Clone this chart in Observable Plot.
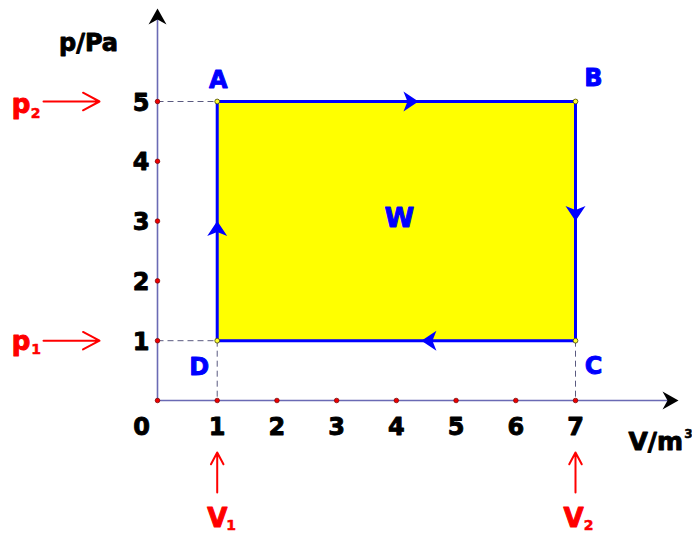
<!DOCTYPE html>
<html>
<head>
<meta charset="utf-8">
<script src="https://cdn.jsdelivr.net/npm/d3@7"></script>
<script src="https://cdn.jsdelivr.net/npm/@observablehq/plot@0.6"></script>
<style>
  html, body { margin: 0; padding: 0; background: #ffffff; }
</style>
</head>
<body>
<div id="chart"></div>
<script>
// ---- data ----
const vertexLabels = ["A", "B", "C", "D"];
const vertexV = [1, 7, 7, 1];
const vertexP = [5, 5, 1, 1];
const xTicks = [0, 1, 2, 3, 4, 5, 6, 7];
const yTicks = [1, 2, 3, 4, 5];
const xTickLabels = ["0", "1", "2", "3", "4", "5", "6", "7"];
const yTickLabels = ["1", "2", "3", "4", "5"];
const flowTipV = [1, 4.37, 7, 4.42];
const flowTipP = [3, 5, 3, 1];
const flowAngle = [0, 90, 180, 270];
const axisEndV = 8.725;
const axisEndP = 6.555;
const workLabel = "W";
const xAxisLabel = "V/m";
const xAxisSup = "3";
const yAxisLabel = "p/Pa";

// ---- helpers ----
function arrowHead(L, w, n) {
  return {
    draw(ctx) {
      ctx.moveTo(0, 0);
      ctx.lineTo(w, L);
      ctx.lineTo(0, L - n);
      ctx.lineTo(-w, L);
      ctx.closePath();
    }
  };
}
const FONT = "DejaVu Sans";
const bold = (color, size, sw) => ({fontSize: size, fontWeight: "bold", fontFamily: FONT, fill: color, stroke: color, strokeWidth: sw});
const idx = [0, 1, 2, 3, 0];
const rectDatum = [{
  x1: d3.min(vertexV), x2: d3.max(vertexV),
  y1: d3.min(vertexP), y2: d3.max(vertexP)
}];
// dashed guides: A, D to p-axis; D, C to V-axis
const guides = [
  {x1: 0, y1: vertexP[0], x2: vertexV[0], y2: vertexP[0]},
  {x1: 0, y1: vertexP[3], x2: vertexV[3], y2: vertexP[3]},
  {x1: vertexV[3], y1: vertexP[3], x2: vertexV[3], y2: 0},
  {x1: vertexV[2], y1: vertexP[2], x2: vertexV[2], y2: 0}
];
const redArrowsP = [
  {x1: -1.909, x2: -0.971, y: vertexP[0]},
  {x1: -1.909, x2: -0.971, y: vertexP[3]}
];
const redArrowsV = [
  {x: vertexV[3], y1: -1.538, y2: -0.870},
  {x: vertexV[2], y1: -1.538, y2: -0.870}
];
const labelOffsets = [[1, -21], [18, -23], [18, 26], [-18, 27]];

const vertexLabelMarks = vertexLabels.map((lab, i) =>
  Plot.text([lab], {x: vertexV[i], y: vertexP[i], text: d => d, dx: labelOffsets[i][0], dy: labelOffsets[i][1], ...bold("#0000ff", 24, 0.9)})
);

const chart = Plot.plot({
  width: 692,
  height: 533,
  margin: 0,
  style: {background: "#ffffff", overflow: "visible"},
  x: {domain: [0, 7], range: [157, 575], axis: null},
  y: {domain: [0, 5], range: [400, 101], axis: null},
  marks: [
    // work area
    Plot.rect(rectDatum, {x1: "x1", x2: "x2", y1: "y1", y2: "y2", fill: "#ffff00"}),
    // dashed guide lines
    Plot.link(guides, {x1: "x1", y1: "y1", x2: "x2", y2: "y2", stroke: "#5a5a80", strokeWidth: 1, strokeDasharray: "6,4"}),
    // axes
    Plot.line([[0, 0], [axisEndV - 0.05, 0]], {x: d => d[0], y: d => d[1], stroke: "#6a6ab4", strokeWidth: 1.6}),
    Plot.line([[0, 0], [0, axisEndP - 0.05]], {x: d => d[0], y: d => d[1], stroke: "#6a6ab4", strokeWidth: 1.6}),
    Plot.dot([[axisEndV, 0, 90], [0, axisEndP, 0]], {x: d => d[0], y: d => d[1], rotate: d => d[2], symbol: arrowHead(16, 9, 5), fill: "#000000", stroke: "none"}),
    // cycle outline
    Plot.line(idx, {x: i => vertexV[i], y: i => vertexP[i], stroke: "#0000ff", strokeWidth: 3, strokeLinejoin: "miter"}),
    // flow arrows
    Plot.dot(d3.range(flowTipV.length), {x: i => flowTipV[i], y: i => flowTipP[i], rotate: i => flowAngle[i], symbol: arrowHead(15, 10, 4), fill: "#0000ff", stroke: "none"}),
    // tick dots
    Plot.dot(xTicks, {x: d => d, y: 0, r: 2.3, fill: "#ee0000", stroke: "#700000", strokeWidth: 0.7}),
    Plot.dot(yTicks, {x: 0, y: d => d, r: 2.3, fill: "#ee0000", stroke: "#700000", strokeWidth: 0.7}),
    // vertex dots
    Plot.dot(d3.range(4), {x: i => vertexV[i], y: i => vertexP[i], r: 2.4, fill: "#ffff33", stroke: "#444400", strokeWidth: 0.8}),
    // tick labels
    Plot.text(d3.range(1, xTicks.length), {x: i => xTicks[i], y: 0, text: i => xTickLabels[i], dy: 26.6, ...bold("#000000", 24, 0.9)}),
    Plot.text([0], {x: i => xTicks[i], y: 0, text: i => xTickLabels[i], dx: -16, dy: 26.6, ...bold("#000000", 24, 0.9)}),
    Plot.text(d3.range(yTicks.length), {x: 0, y: i => yTicks[i], text: i => yTickLabels[i], textAnchor: "end", dx: -8, dy: 1.5, ...bold("#000000", 24, 0.9)}),
    // axis titles
    Plot.text([yAxisLabel], {x: 0, y: axisEndP, text: d => d, dx: -69, dy: 34.5, ...bold("#000000", 24, 0.9)}),
    Plot.text([xAxisLabel], {x: axisEndV, y: 0, text: d => d, textAnchor: "start", dx: -50, dy: 41.5, ...bold("#000000", 25, 0.9)}),
    Plot.text([xAxisSup], {x: axisEndV, y: 0, text: d => d, dx: 10, dy: 34, ...bold("#000000", 12, 0.5)}),
    // vertex labels
    ...vertexLabelMarks,
    // W label
    Plot.text([workLabel], {x: (d3.min(vertexV) + d3.max(vertexV)) / 2, y: (d3.min(vertexP) + d3.max(vertexP)) / 2, text: d => d, dx: 3, dy: -2.5, ...bold("#0000ff", 27, 1)}),
    // red annotation arrows
    Plot.arrow(redArrowsP, {x1: "x1", x2: "x2", y1: "y", y2: "y", stroke: "#ff0000", strokeWidth: 2, headLength: 18, headAngle: 56}),
    Plot.arrow(redArrowsV, {x1: "x", x2: "x", y1: "y1", y2: "y2", stroke: "#ff0000", strokeWidth: 2, headLength: 18, headAngle: 56}),
    // red labels
    Plot.text(["p"], {x: 0, y: vertexP[0], text: d => d, dx: -136.5, dy: 3.6, ...bold("#ff0000", 26, 1)}),
    Plot.text(["2"], {x: 0, y: vertexP[0], text: d => d, dx: -122, dy: 11.8, ...bold("#ff0000", 14, 0.5)}),
    Plot.text(["p"], {x: 0, y: vertexP[3], text: d => d, dx: -136.5, dy: 1.3, ...bold("#ff0000", 26, 1)}),
    Plot.text(["1"], {x: 0, y: vertexP[3], text: d => d, dx: -121.5, dy: 8.8, ...bold("#ff0000", 14, 0.5)}),
    Plot.text(["V"], {x: vertexV[3], y: 0, text: d => d, dx: 0, dy: 117.7, ...bold("#ff0000", 26, 1)}),
    Plot.text(["1"], {x: vertexV[3], y: 0, text: d => d, dx: 14, dy: 125.5, ...bold("#ff0000", 14, 0.5)}),
    Plot.text(["V"], {x: vertexV[2], y: 0, text: d => d, dx: -2, dy: 117.7, ...bold("#ff0000", 26, 1)}),
    Plot.text(["2"], {x: vertexV[2], y: 0, text: d => d, dx: 13, dy: 125.5, ...bold("#ff0000", 14, 0.5)})
  ]
});
document.getElementById("chart").appendChild(chart);
</script>
</body>
</html>
